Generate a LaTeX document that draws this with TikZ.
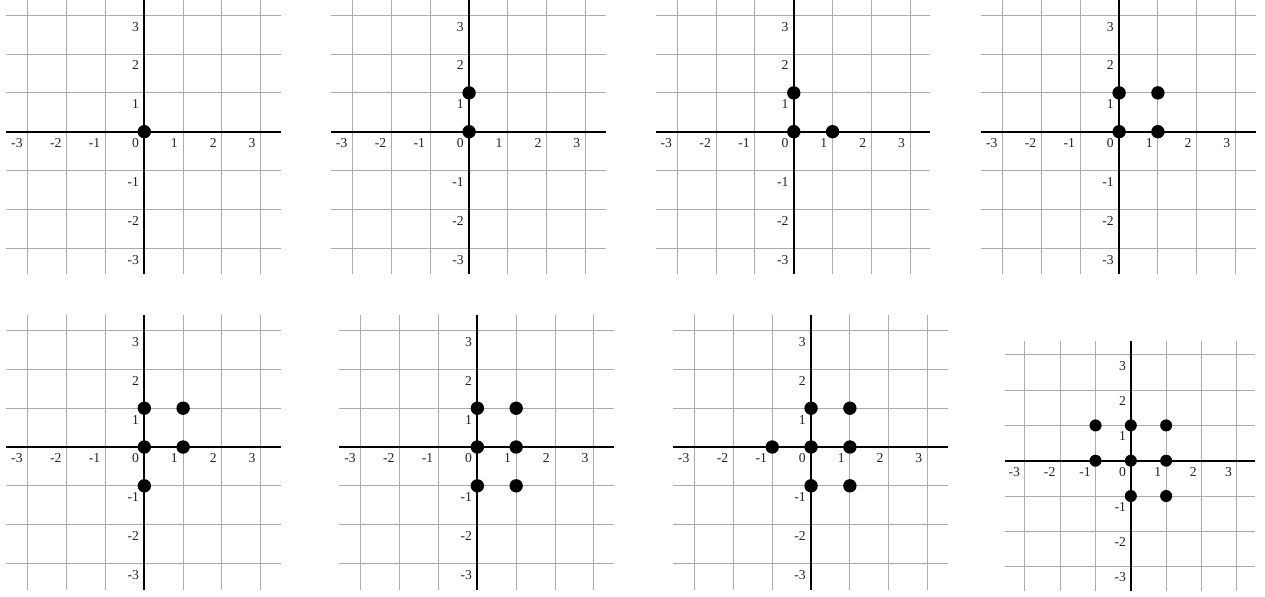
\documentclass[tikz,border=0pt]{standalone}
\usepackage{fontspec}
\setmainfont{Liberation Serif}
\usetikzlibrary{calc}
\definecolor{clrgrid}{HTML}{ABABAB}
\definecolor{clraxis}{HTML}{000000}
\definecolor{clrdot}{HTML}{000000}
\definecolor{clrtext}{HTML}{222222}

\tikzset{
  panel/.pic={
    \foreach \k in {-3,...,3} {
      \draw[gridline] (-3.56,\k) -- (3.52,\k);
      \draw[gridline] (\k,-3.68) -- (\k,3.39);
    }
    \draw[axisline] (-3.56,0) -- (3.52,0);
    \draw[axisline] (0,-3.68) -- (0,3.39);
    \foreach \k in {-3,...,3}
      \node[ticklabel] (-x\k) at (\k-0.13,-0.17) {\k};
    \foreach \k in {-3,-2,-1,1,2,3}
      \node[ticklabel] (-y\k) at (-0.13,\k-0.17) {\k};
  }
}

\begin{document}
\begin{tikzpicture}[
    gridline/.style={draw=clrgrid, line width=0.7pt},
    axisline/.style={draw=clraxis, line width=1.6pt},
    ticklabel/.style={anchor=north east, inner sep=0pt, font=\normalsize, text=clrtext},
    dot/.style={circle, fill=clrdot, inner sep=0pt, minimum size=0.345cm},
]
\useasboundingbox (0,0) rectangle (32.60,15.36);
% top row
\begin{scope}[shift={(3.719,11.966)}]
\pic (p_1) {panel};
\node[dot] (p_1-d1) at (0,0) {};
\end{scope}
\begin{scope}[shift={(12.088,11.966)}]
\pic (p_2) {panel};
\node[dot] (p_2-d1) at (0,0) {};
\node[dot] (p_2-d2) at (0,1) {};
\end{scope}
\begin{scope}[shift={(20.456,11.966)}]
\pic (p_3) {panel};
\node[dot] (p_3-d1) at (0,0) {};
\node[dot] (p_3-d2) at (0,1) {};
\node[dot] (p_3-d3) at (1,0) {};
\end{scope}
\begin{scope}[shift={(28.840,11.966)}]
\pic (p_4) {panel};
\node[dot] (p_4-d1) at (0,0) {};
\node[dot] (p_4-d2) at (0,1) {};
\node[dot] (p_4-d3) at (1,0) {};
\node[dot] (p_4-d4) at (1,1) {};
\end{scope}
% bottom row
\begin{scope}[shift={(3.719,3.840)}]
\pic (p_5) {panel};
\node[dot] (p_5-d1) at (0,0) {};
\node[dot] (p_5-d2) at (0,1) {};
\node[dot] (p_5-d3) at (1,0) {};
\node[dot] (p_5-d4) at (1,1) {};
\node[dot] (p_5-d5) at (0,-1) {};
\end{scope}
\begin{scope}[shift={(12.302,3.840)}]
\pic (p_6) {panel};
\node[dot] (p_6-d1) at (0,0) {};
\node[dot] (p_6-d2) at (0,1) {};
\node[dot] (p_6-d3) at (1,0) {};
\node[dot] (p_6-d4) at (1,1) {};
\node[dot] (p_6-d5) at (0,-1) {};
\node[dot] (p_6-d6) at (1,-1) {};
\end{scope}
\begin{scope}[shift={(20.902,3.840)}]
\pic (p_7) {panel};
\node[dot] (p_7-d1) at (0,0) {};
\node[dot] (p_7-d2) at (0,1) {};
\node[dot] (p_7-d3) at (1,0) {};
\node[dot] (p_7-d4) at (1,1) {};
\node[dot] (p_7-d5) at (0,-1) {};
\node[dot] (p_7-d6) at (1,-1) {};
\node[dot] (p_7-d7) at (-1,0) {};
\end{scope}
% smaller last panel, labels kept at full size
\begin{scope}[shift={(29.142,3.487)}, scale=0.91,
    dot/.append style={minimum size=0.31cm},
    ticklabel/.append style={scale=1.1}]
\pic[transform shape] (p_8) {panel};
\node[dot] (p_8-d1) at (0,0) {};
\node[dot] (p_8-d2) at (0,1) {};
\node[dot] (p_8-d3) at (1,0) {};
\node[dot] (p_8-d4) at (1,1) {};
\node[dot] (p_8-d5) at (0,-1) {};
\node[dot] (p_8-d6) at (1,-1) {};
\node[dot] (p_8-d7) at (-1,0) {};
\node[dot] (p_8-d8) at (-1,1) {};
\end{scope}
\end{tikzpicture}
\end{document}
